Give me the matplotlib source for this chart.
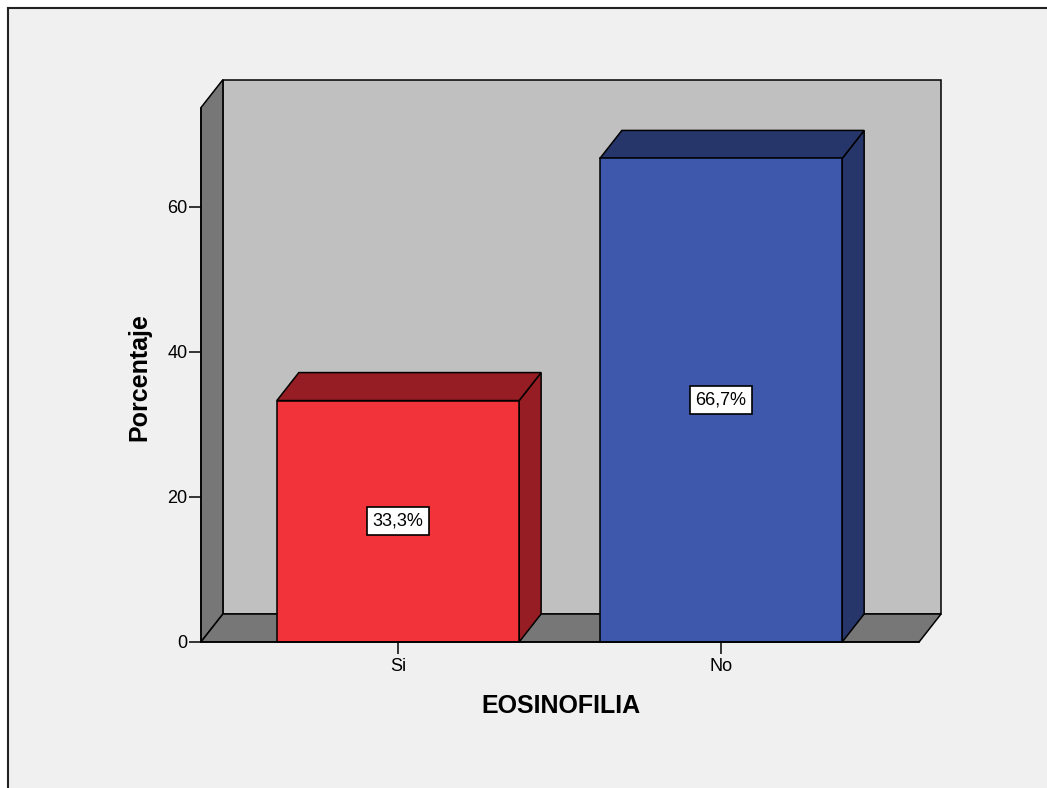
import matplotlib
matplotlib.use("Agg")
import matplotlib.pyplot as plt
from matplotlib.patches import Polygon, Rectangle
from matplotlib.lines import Line2D

plt.rcParams['font.family'] = ['Liberation Sans', 'DejaVu Sans']

categories = ['Si', 'No']
percent = [33.3, 66.7]
value_labels = ['33,3%', '66,7%']
y_ticks = [0, 20, 40, 60]
front_colors = ['#f2333a', '#3e59ab']
side_colors = ['#951d23', '#26366b']

# 3D box geometry (data units)
bar_w = 0.75
dx, dy = 0.068, 3.86
x_left, x_right = -0.61, 1.613
wall_top = 73.7

fig = plt.figure(figsize=(10.47, 7.88), dpi=100, facecolor='white')

# outer frame (top and left edges only)
fig.add_artist(Rectangle((8 / 1047, 0), 1, 1 - 8 / 788, transform=fig.transFigure,
                         facecolor='#f0f0f0', edgecolor='none', zorder=0))
fig.add_artist(Line2D([8 / 1047, 1], [1 - 8 / 788, 1 - 8 / 788], transform=fig.transFigure,
                      color='#222222', lw=1.5))
fig.add_artist(Line2D([8 / 1047, 8 / 1047], [0, 1 - 8 / 788], transform=fig.transFigure,
                      color='#222222', lw=1.5))

ax = fig.add_axes([0, 0, 1, 1])
ax.patch.set_visible(False)
ax.set_xlim(-1.232, 2.009)
ax.set_ylim(-20.14, 88.55)

lw = 1.1
# back wall, side wall, floor
ax.add_patch(Rectangle((x_left + dx, dy), x_right - x_left, wall_top,
                       facecolor='#c0c0c0', edgecolor='black', lw=lw, zorder=1))
ax.add_patch(Polygon([(x_left, 0), (x_left + dx, dy), (x_left + dx, wall_top + dy), (x_left, wall_top)],
                     closed=True, facecolor='#777777', edgecolor='black', lw=lw, zorder=2))
ax.add_patch(Polygon([(x_left, 0), (x_right, 0), (x_right + dx, dy), (x_left + dx, dy)],
                     closed=True, facecolor='#777777', edgecolor='black', lw=lw, zorder=2))

for i, (v, fc, sc, lab) in enumerate(zip(percent, front_colors, side_colors, value_labels)):
    x0, x1 = i - bar_w / 2, i + bar_w / 2
    ax.add_patch(Polygon([(x1, 0), (x1 + dx, dy), (x1 + dx, v + dy), (x1, v)],
                         closed=True, facecolor=sc, edgecolor='black', lw=lw, zorder=3))
    ax.add_patch(Polygon([(x0, v), (x1, v), (x1 + dx, v + dy), (x0 + dx, v + dy)],
                         closed=True, facecolor=sc, edgecolor='black', lw=lw, zorder=3))
    ax.add_patch(Rectangle((x0, 0), bar_w, v, facecolor=fc, edgecolor='black', lw=lw, zorder=4))
    ax.text(i, v / 2, lab, ha='center', va='center', fontsize=13, zorder=5,
            bbox=dict(boxstyle='square,pad=0.3', fc='white', ec='black', lw=1.2))

# axes
for s in ['top', 'right']:
    ax.spines[s].set_visible(False)
ax.spines['left'].set_position(('data', x_left))
ax.spines['left'].set_bounds(0, wall_top)
ax.spines['bottom'].set_position(('data', 0))
ax.spines['bottom'].set_bounds(x_left, x_right)
for s in ['left', 'bottom']:
    ax.spines[s].set_linewidth(lw)
    ax.spines[s].set_zorder(6)
ax.set_yticks(y_ticks)
ax.set_xticks(range(len(categories)))
ax.set_xticklabels(categories)
ax.tick_params(axis='both', direction='out', length=8.5, width=1.1, labelsize=13, pad=1)
ax.tick_params(axis='x', pad=3)

ax.text(-0.80, 36.5, 'Porcentaje', rotation=90, ha='center', va='center',
        fontsize=18, fontweight='bold')
ax.text(0.503, -8.8, 'EOSINOFILIA', ha='center', va='center',
        fontsize=18, fontweight='bold')

fig.savefig('out.png', dpi=100, facecolor='white')
